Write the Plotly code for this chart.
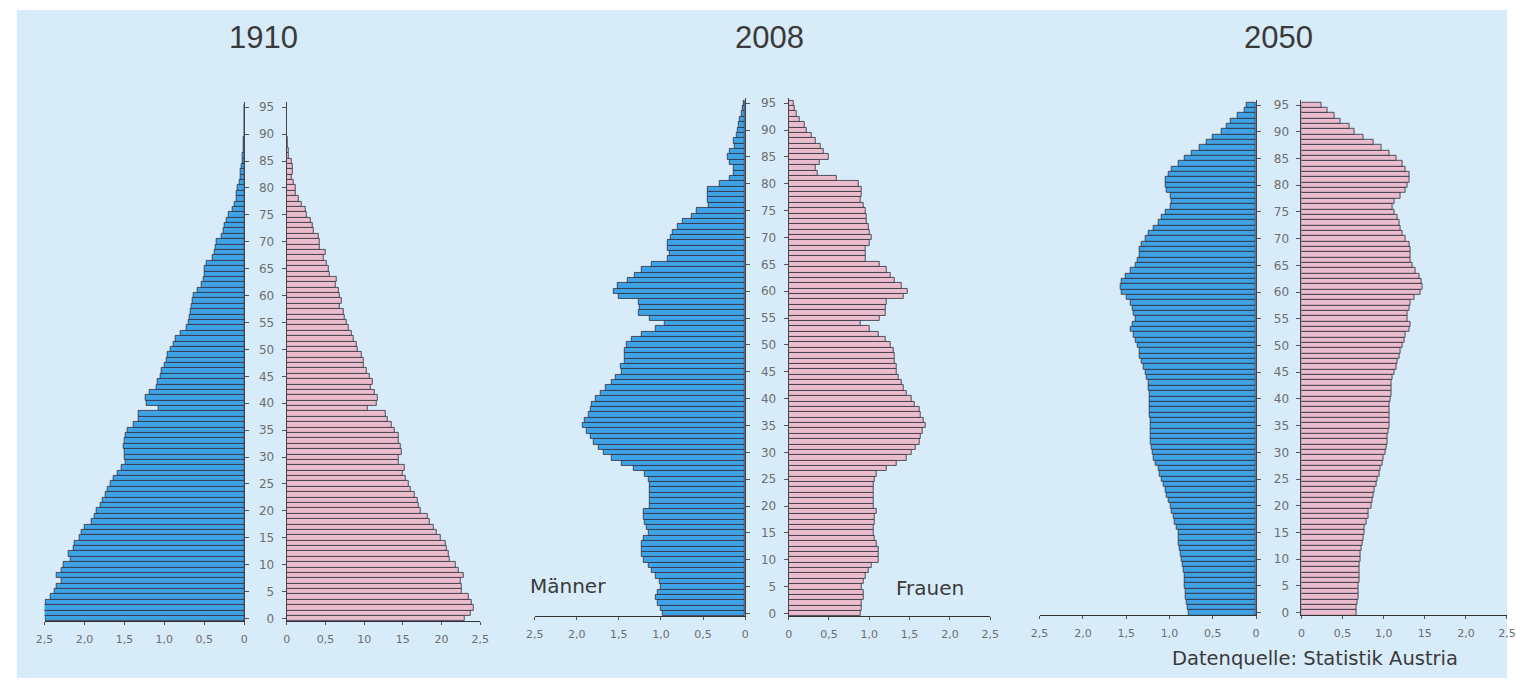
import plotly.graph_objects as go

# ---------------- data ----------------
ages = list(range(96))
age_ticks = list(range(0, 96, 5))
years = ["1910", "2008", "2050"]

male_1910 = [2.49, 2.51, 2.51, 2.49, 2.43, 2.37, 2.35, 2.29, 2.35, 2.29,
             2.26, 2.18, 2.20, 2.14, 2.12, 2.06, 2.04, 2.00, 1.91, 1.87,
             1.85, 1.80, 1.77, 1.73, 1.71, 1.67, 1.63, 1.58, 1.54, 1.49,
             1.50, 1.50, 1.51, 1.50, 1.48, 1.46, 1.38, 1.32, 1.32, 1.07,
             1.22, 1.23, 1.19, 1.10, 1.09, 1.05, 1.03, 1.00, 0.97, 0.96,
             0.92, 0.88, 0.86, 0.80, 0.72, 0.70, 0.68, 0.67, 0.66, 0.65,
             0.64, 0.59, 0.53, 0.51, 0.50, 0.49, 0.47, 0.40, 0.37, 0.36,
             0.35, 0.28, 0.26, 0.24, 0.22, 0.20, 0.15, 0.12, 0.10, 0.09,
             0.08, 0.06, 0.05, 0.04, 0.03, 0.02, 0.02, 0.01, 0.01, 0.01,
             0.0, 0.0, 0.0, 0.0, 0.0, 0.0]
female_1910 = [2.30, 2.37, 2.41, 2.39, 2.35, 2.26, 2.26, 2.24, 2.28, 2.22,
               2.18, 2.11, 2.09, 2.07, 2.05, 1.99, 1.94, 1.90, 1.84, 1.82,
               1.73, 1.71, 1.69, 1.65, 1.60, 1.58, 1.54, 1.50, 1.52, 1.45,
               1.45, 1.48, 1.47, 1.45, 1.45, 1.39, 1.35, 1.30, 1.28, 1.05,
               1.16, 1.18, 1.14, 1.09, 1.11, 1.07, 1.03, 0.99, 0.99, 0.97,
               0.92, 0.90, 0.86, 0.84, 0.80, 0.77, 0.75, 0.73, 0.69, 0.71,
               0.69, 0.67, 0.63, 0.65, 0.56, 0.54, 0.52, 0.48, 0.50, 0.43,
               0.43, 0.41, 0.35, 0.33, 0.31, 0.26, 0.24, 0.20, 0.16, 0.12,
               0.11, 0.09, 0.07, 0.08, 0.08, 0.07, 0.03, 0.02, 0.01, 0.01,
               0.0, 0.0, 0.0, 0.0, 0.0, 0.0]
male_2008 = [0.98, 1.00, 1.04, 1.06, 1.04, 1.00, 1.02, 1.06, 1.11, 1.15,
             1.21, 1.23, 1.23, 1.23, 1.21, 1.15, 1.17, 1.19, 1.21, 1.21,
             1.13, 1.13, 1.13, 1.13, 1.13, 1.15, 1.19, 1.33, 1.47, 1.58,
             1.68, 1.74, 1.80, 1.84, 1.88, 1.93, 1.91, 1.86, 1.84, 1.82,
             1.78, 1.72, 1.66, 1.58, 1.54, 1.47, 1.48, 1.43, 1.43, 1.43,
             1.41, 1.35, 1.23, 1.06, 0.96, 1.13, 1.27, 1.25, 1.27, 1.50,
             1.56, 1.52, 1.39, 1.31, 1.23, 1.11, 0.92, 0.90, 0.92, 0.92,
             0.88, 0.86, 0.80, 0.74, 0.64, 0.57, 0.43, 0.45, 0.44, 0.45,
             0.30, 0.18, 0.14, 0.14, 0.18, 0.21, 0.18, 0.13, 0.14, 0.10,
             0.09, 0.08, 0.06, 0.04, 0.03, 0.02]
female_2008 = [0.89, 0.91, 0.91, 0.93, 0.93, 0.91, 0.93, 0.95, 0.99, 1.03,
               1.11, 1.11, 1.11, 1.09, 1.07, 1.05, 1.05, 1.07, 1.07, 1.09,
               1.05, 1.05, 1.05, 1.05, 1.05, 1.07, 1.09, 1.22, 1.34, 1.46,
               1.52, 1.58, 1.62, 1.64, 1.66, 1.70, 1.68, 1.64, 1.62, 1.56,
               1.52, 1.46, 1.42, 1.40, 1.36, 1.34, 1.34, 1.32, 1.32, 1.30,
               1.26, 1.20, 1.11, 1.01, 0.89, 1.13, 1.20, 1.20, 1.22, 1.42,
               1.48, 1.40, 1.32, 1.26, 1.22, 1.13, 0.95, 0.95, 0.95, 1.01,
               1.03, 1.01, 0.99, 0.97, 0.97, 0.95, 0.93, 0.89, 0.91, 0.91,
               0.87, 0.60, 0.36, 0.34, 0.38, 0.50, 0.44, 0.40, 0.34, 0.28,
               0.22, 0.20, 0.14, 0.10, 0.08, 0.06]
male_2050 = [0.78, 0.79, 0.80, 0.81, 0.81, 0.82, 0.83, 0.83, 0.84, 0.85,
             0.86, 0.87, 0.88, 0.89, 0.90, 0.90, 0.92, 0.94, 0.95, 0.97,
             0.99, 1.01, 1.03, 1.05, 1.07, 1.09, 1.11, 1.13, 1.16, 1.18,
             1.20, 1.21, 1.22, 1.22, 1.22, 1.22, 1.22, 1.23, 1.23, 1.23,
             1.23, 1.23, 1.24, 1.24, 1.26, 1.28, 1.30, 1.32, 1.34, 1.35,
             1.37, 1.39, 1.41, 1.45, 1.43, 1.39, 1.41, 1.43, 1.45, 1.49,
             1.55, 1.56, 1.55, 1.51, 1.45, 1.39, 1.37, 1.35, 1.34, 1.32,
             1.28, 1.24, 1.18, 1.13, 1.09, 1.05, 0.99, 0.97, 0.99, 1.03,
             1.05, 1.04, 1.01, 0.97, 0.90, 0.82, 0.74, 0.65, 0.57, 0.50,
             0.40, 0.34, 0.29, 0.21, 0.13, 0.11]
female_2050 = [0.67, 0.67, 0.68, 0.69, 0.69, 0.69, 0.70, 0.70, 0.71, 0.71,
               0.72, 0.72, 0.73, 0.74, 0.75, 0.77, 0.77, 0.79, 0.81, 0.82,
               0.85, 0.86, 0.87, 0.89, 0.91, 0.93, 0.95, 0.96, 0.98, 1.00,
               1.02, 1.03, 1.04, 1.05, 1.06, 1.07, 1.07, 1.07, 1.07, 1.07,
               1.08, 1.09, 1.09, 1.10, 1.11, 1.13, 1.15, 1.17, 1.19, 1.21,
               1.23, 1.25, 1.27, 1.31, 1.33, 1.29, 1.29, 1.31, 1.33, 1.37,
               1.45, 1.47, 1.46, 1.43, 1.39, 1.35, 1.33, 1.33, 1.33, 1.31,
               1.27, 1.23, 1.21, 1.19, 1.17, 1.13, 1.11, 1.13, 1.21, 1.27,
               1.29, 1.31, 1.31, 1.27, 1.23, 1.15, 1.07, 0.97, 0.87, 0.75,
               0.65, 0.58, 0.48, 0.40, 0.32, 0.24]

x_ticks = [0, 0.5, 1.0, 1.5, 2.0, 2.5]
left_ticktext = [
    ["0", "0,5", "1,0", "1,5", "2,0", "2,5"],
    ["0", "0,5", "1,0", "1,5", "2,0", "2,5"],
    ["0", "0,5", "1,0", "1,5", "2,0", "2,5"],
]
right_ticktext = [
    ["0", "0,5", "10", "15", "20", "2,5"],
    ["0", "0,5", "1,0", "1,5", "2,0", "2,5"],
    ["0", "0,5", "1,0", "15", "2,0", "2,5"],
]
males = [male_1910, male_2008, male_2050]
females = [female_1910, female_2008, female_2050]

# ---------------- layout geometry (pixels) ----------------
W, H = 1516, 683
# (left x-domain px, right x-domain px, y-domain px bottom, top)
panels = [
    ((36, 238), (281, 477), 625.7, 101.7),
    ((532, 745), (789, 993), 620.7, 97.7),
    ((1043, 1262), (1308, 1516), 619.7, 99.6),
]
title_x = [258, 770, 1285]

BLUE = "#3fa2e4"
PINK = "#ebbccb"
EDGE = "#2e2e3e"
TICKC = "#6e6e6e"
FONT = "DejaVu Sans, Liberation Sans, Arial"
TFONT = "Liberation Sans, Arial"

fig = go.Figure()
layout = dict(
    width=W, height=H,
    margin=dict(l=0, r=0, t=0, b=0),
    paper_bgcolor="white",
    plot_bgcolor="rgba(0,0,0,0)",
    showlegend=False,
    bargap=0,
    hovermode=False,
    font=dict(family=FONT, color=TICKC),
)

def px_x(p):
    return min(max(p / W, 0.0), 1.0)

def px_y(p):
    return min(max(1 - p / H, 0.0), 1.0)

for i in range(3):
    (lx0, lx1), (rx0, rx1), yb, yt = panels[i]
    nl = 2 * i + 1
    nr = 2 * i + 2
    xl, yl = f"x{nl}", f"y{nl}"
    xr, yr = f"x{nr}", f"y{nr}"
    fig.add_trace(go.Bar(
        x=males[i], y=ages, orientation="h", width=1,
        marker=dict(color=BLUE, line=dict(color=EDGE, width=0.8)),
        xaxis=xl, yaxis=yl, name="Männer " + years[i]))
    fig.add_trace(go.Bar(
        x=females[i], y=ages, orientation="h", width=1,
        marker=dict(color=PINK, line=dict(color=EDGE, width=0.8)),
        xaxis=xr, yaxis=yr, name="Frauen " + years[i]))

    ydom = [px_y(yb), px_y(yt)]
    common_x = dict(showgrid=False, zeroline=False, showline=True,
                    linecolor="#333333", linewidth=1.2, ticks="outside",
                    ticklen=3, tickcolor="#555555", ticklabelstandoff=4,
                    tickfont=dict(size=11, color=TICKC, family=FONT),
                    tickvals=x_ticks, fixedrange=True)
    layout[f"xaxis{nl}"] = dict(common_x, domain=[px_x(lx0), px_x(lx1)],
                                range=[2.5, 0], anchor=yl,
                                ticktext=left_ticktext[i])
    layout[f"xaxis{nr}"] = dict(common_x, domain=[px_x(rx0), px_x(rx1)],
                                range=[0, 2.5], anchor=yr,
                                ticktext=right_ticktext[i])
    common_y = dict(showgrid=False, zeroline=False, showline=True,
                    linecolor="#444444", linewidth=1, ticks="outside",
                    ticklen=4, tickcolor="#555555",
                    tickvals=age_ticks, range=[-0.5, 96], domain=ydom,
                    fixedrange=True)
    layout[f"yaxis{nl}"] = dict(common_y, anchor=xl, side="right",
                                showticklabels=False)
    layout[f"yaxis{nr}"] = dict(common_y, anchor=xr, side="left",
                                showticklabels=True, ticklabelstandoff=5,
                                tickfont=dict(size=12, color=TICKC,
                                              family=FONT))

annotations = []
for i in range(3):
    annotations.append(dict(text=years[i], x=px_x(title_x[i]), y=px_y(37),
                            xref="paper", yref="paper", showarrow=False,
                            xanchor="center", yanchor="middle",
                            font=dict(size=31, color="#3a3a3a",
                                      family=TFONT)))
annotations.append(dict(text="Männer", x=px_x(566), y=px_y(590),
                        xref="paper", yref="paper", showarrow=False,
                        xanchor="center", yanchor="middle",
                        font=dict(size=20, color="#3a3a3a", family=FONT)))
annotations.append(dict(text="Frauen", x=px_x(932), y=px_y(592),
                        xref="paper", yref="paper", showarrow=False,
                        xanchor="center", yanchor="middle",
                        font=dict(size=20, color="#3a3a3a", family=FONT)))
annotations.append(dict(text="Datenquelle: Statistik Austria",
                        x=px_x(1322), y=px_y(663),
                        xref="paper", yref="paper", showarrow=False,
                        xanchor="center", yanchor="middle",
                        font=dict(size=19.5, color="#3a3a3a", family=FONT)))
layout["annotations"] = annotations

layout["shapes"] = [dict(type="rect", xref="paper", yref="paper",
                         x0=px_x(8), x1=1, y0=0, y1=px_y(9),
                         fillcolor="#d7ebf9", line=dict(width=0),
                         layer="below")]

fig.update_layout(**layout)
fig.write_html(
    "out.html",
    config={"displayModeBar": False},
    post_script="document.body.style.margin='0';"
                "document.body.style.overflow='hidden';",
)
